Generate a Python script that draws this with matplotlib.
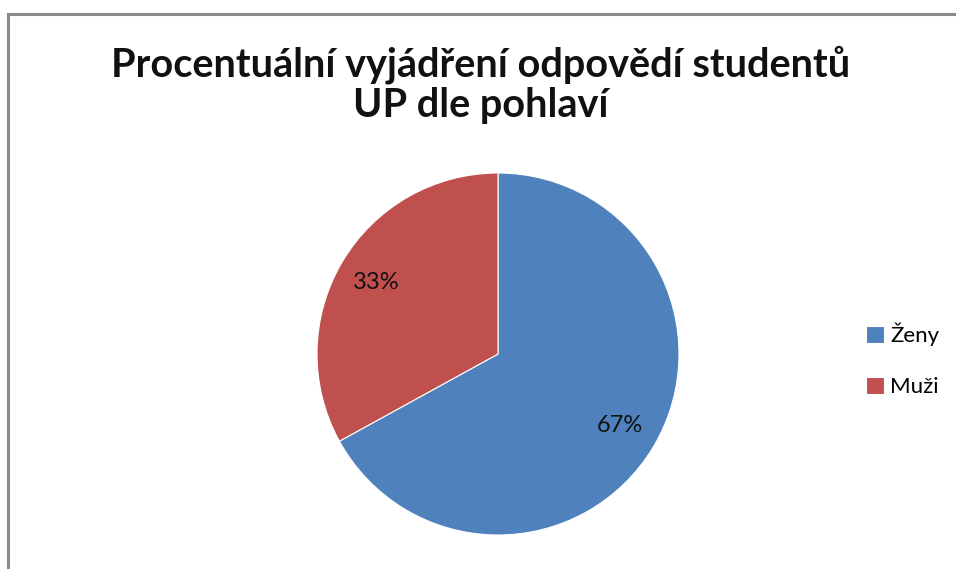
import matplotlib
matplotlib.use("Agg")
import matplotlib.pyplot as plt
from matplotlib.lines import Line2D

title = "Procentuální vyjádření odpovědí studentů\nUP dle pohlaví"
categories = ["Ženy", "Muži"]
values = [67, 33]
colors = ["#4F81BD", "#C0504D"]

W, H = 956, 569
fig = plt.figure(figsize=(W / 100, H / 100), dpi=100)
fig.patch.set_facecolor("white")

# outer chart border (gray)
fig.add_artist(Line2D([8 / W, 8 / W], [0, 1 - 14 / H], color="#8a8a8a", lw=2.2,
                      transform=fig.transFigure))
fig.add_artist(Line2D([8 / W, 1], [1 - 14 / H, 1 - 14 / H], color="#8a8a8a", lw=2.2,
                      transform=fig.transFigure))

cx, cy, r = 498, 354, 181
ax = fig.add_axes([(cx - r) / W, (H - cy - r) / H, 2 * r / W, 2 * r / H])
wedges, texts, autotexts = ax.pie(
    values, colors=colors, startangle=90, counterclock=False,
    autopct="%d%%", pctdistance=0.78, radius=1.0,
    wedgeprops=dict(linewidth=0.8, edgecolor="white"),
    textprops=dict(fontsize=17, family="Lato", color="#111111"))
ax.set_xlim(-1, 1)
ax.set_ylim(-1, 1)
ax.set_aspect("equal")
ax.axis("off")

fig.text(481 / W, 1 - 85 / H, title, ha="center", va="center",
         fontsize=28.5, fontweight="bold", family="Lato", color="#111111",
         linespacing=1.1)

leg = fig.legend(wedges, categories, loc="center left",
                 bbox_to_anchor=(866 / W, 1 - 360 / H), frameon=False,
                 borderpad=0, borderaxespad=0,
                 prop=dict(family="Lato", size=16), handlelength=0.8,
                 handleheight=0.8, handletextpad=0.3, labelspacing=1.4)

fig.savefig("out.png", dpi=100, facecolor="white")
